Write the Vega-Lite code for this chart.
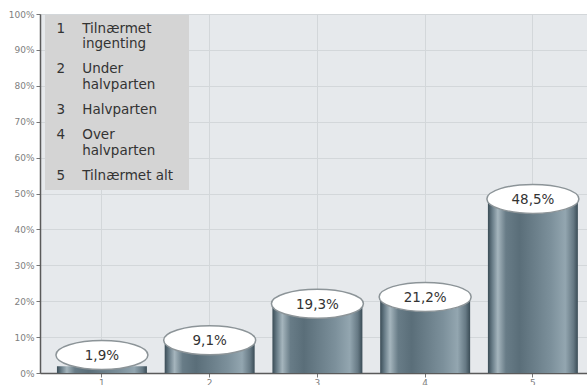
{
  "$schema": "https://vega.github.io/schema/vega-lite/v6.json",
  "width": 547,
  "height": 359,
  "autosize": {"type": "none"},
  "padding": {"left": 40, "top": 14, "right": 0, "bottom": 12},
  "background": "#ffffff",
  "config": {
    "locale": {"number": {"decimal": ",", "thousands": ".", "grouping": [3], "currency": ["", " kr."]}},
    "view": {"fill": "#e6e9ec", "stroke": "#9a9a9a", "strokeWidth": 1},
    "axis": {
      "labelFont": "DejaVu Sans",
      "labelFontSize": 9,
      "labelColor": "#808080",
      "domainColor": "#5a5a5a",
      "domainWidth": 1.5,
      "tickColor": "#777777",
      "tickSize": 4,
      "gridColor": "#d3d7da",
      "gridWidth": 1,
      "title": null
    }
  },
  "data": {
    "values": [
      {"kat": "1", "pct": 0.019, "legend": "1\u00a0\u00a0\u00a0\u00a0Tilnærmet|\u200b\u00a0\u00a0\u00a0\u00a0\u00a0\u00a0ingenting"},
      {"kat": "2", "pct": 0.091, "legend": "2\u00a0\u00a0\u00a0\u00a0Under|\u200b\u00a0\u00a0\u00a0\u00a0\u00a0\u00a0halvparten"},
      {"kat": "3", "pct": 0.193, "legend": "3\u00a0\u00a0\u00a0\u00a0Halvparten"},
      {"kat": "4", "pct": 0.212, "legend": "4\u00a0\u00a0\u00a0\u00a0Over|\u200b\u00a0\u00a0\u00a0\u00a0\u00a0\u00a0halvparten"},
      {"kat": "5", "pct": 0.485, "legend": "5\u00a0\u00a0\u00a0\u00a0Tilnærmet alt\u00a0\u00a0\u200b"}
    ]
  },
  "encoding": {
    "x": {
      "field": "kat",
      "type": "ordinal",
      "sort": null,
      "scale": {"paddingInner": 0.165, "paddingOuter": 0.121, "align": 0.65},
      "axis": {"labelAngle": 0, "grid": true, "bandPosition": 0.5, "labelPadding": 1, "tickSize": 4}
    },
    "y": {
      "field": "pct",
      "type": "quantitative",
      "scale": {"domain": [0, 1], "nice": false},
      "axis": {"values": [0, 0.1, 0.2, 0.3, 0.4, 0.5, 0.6, 0.7, 0.8, 0.9, 1], "format": ".0%", "labelPadding": 2}
    }
  },
  "layer": [
    {
      "mark": {
        "type": "bar",
        "fill": {
          "gradient": "linear",
          "x1": 0, "x2": 1, "y1": 0, "y2": 0,
          "stops": [
            {"offset": 0, "color": "#3a4c56"},
            {"offset": 0.05, "color": "#6a7e89"},
            {"offset": 0.11, "color": "#a5b5bd"},
            {"offset": 0.2, "color": "#687c87"},
            {"offset": 0.35, "color": "#5a6e79"},
            {"offset": 0.7, "color": "#7c909b"},
            {"offset": 0.86, "color": "#93a6b0"},
            {"offset": 0.95, "color": "#667984"},
            {"offset": 1, "color": "#3a4c56"}
          ]
        }
      }
    },
    {
      "transform": [{"calculate": "max(datum.pct, 0.05)", "as": "labelY"}],
      "encoding": {
        "y": {"field": "labelY", "type": "quantitative"}
      },
      "layer": [
        {
          "mark": {
            "type": "point",
            "shape": "M -1 0 A 1 0.315 0 1 0 1 0 A 1 0.315 0 1 0 -1 0 Z",
            "size": 8464,
            "filled": true,
            "opacity": 1,
            "stroke": "#8c9498",
            "strokeWidth": 1.5
          },
          "encoding": {
            "fill": {
              "field": "legend",
              "type": "nominal",
              "scale": {"range": ["#ffffff", "#ffffff", "#ffffff", "#ffffff", "#ffffff"]},
              "legend": {
                "title": null,
                "orient": "none",
                "legendX": 5,
                "legendY": 1,
                "fillColor": "#d4d4d4",
                "padding": 7,
                "rowPadding": 10.5,
                "symbolSize": 0,
                "symbolOpacity": 0,
                "symbolStrokeWidth": 0,
                "labelOffset": -9,
                "labelFont": "DejaVu Sans",
                "labelFontSize": 13.5,
                "labelColor": "#333333",
                "labelLimit": 400,
                "labelExpr": "split(datum.value, '|')",
                "encode": {"labels": {"update": {"lineHeight": {"value": 16}}}}
              }
            }
          }
        },
        {
          "mark": {"type": "text", "font": "DejaVu Sans", "fontSize": 13.5, "color": "#333333", "baseline": "middle", "dy": 1},
          "encoding": {
            "text": {"field": "pct", "type": "quantitative", "format": ".1%"}
          }
        }
      ]
    }
  ]
}
